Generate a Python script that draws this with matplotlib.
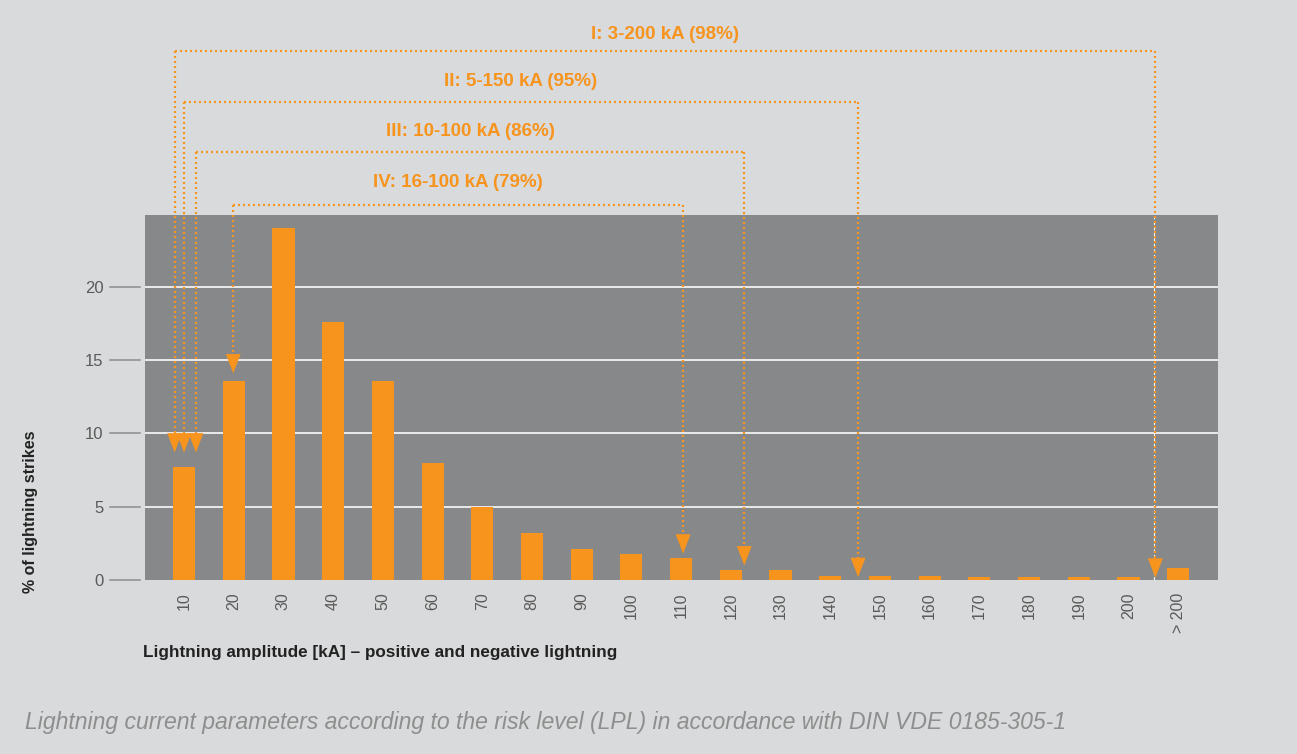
import numpy as np
import matplotlib
matplotlib.use("Agg")
import matplotlib.pyplot as plt
import matplotlib.transforms as mtransforms

# ============================================================
# Data
# ============================================================

amp_pos = [10, 20, 30, 40, 50, 60, 70, 80, 90, 100,
           110, 120, 130, 140, 150, 160, 170, 180, 190, 200, 210]
amp_labels = ["10", "20", "30", "40", "50", "60", "70", "80", "90", "100",
              "110", "120", "130", "140", "150", "160", "170", "180", "190", "200", "> 200"]
share = [7.7, 13.6, 24.0, 17.6, 13.6, 8.0, 5.0, 3.2, 2.1, 1.8,
         1.5, 0.7, 0.7, 0.3, 0.3, 0.3, 0.2, 0.2, 0.2, 0.2, 0.8]

# protection levels: label, left x, right x, bracket height, arrow tips
lpl_labels = ["I: 3-200 kA (98%)", "II: 5-150 kA (95%)",
              "III: 10-100 kA (86%)", "IV: 16-100 kA (79%)"]
lpl_left = [8.1, 10.0, 12.4, 19.9]
lpl_right = [205.4, 145.6, 122.7, 110.4]
lpl_top = [36.1, 32.6, 29.2, 25.6]
lpl_text_y = [37.2, 34.0, 30.6, 27.1]
lpl_tip_left = [8.7, 8.7, 8.7, 14.1]
lpl_tip_right = [0.15, 0.2, 1.0, 1.8]

yticks = [0, 5, 10, 15, 20]

# ============================================================
# Style
# ============================================================

orange = "#F7941E"
bg = "#D9DADB"
plot_bg = "#87888A"
txt_gray = "#5a5a5a"

plt.rcParams["font.family"] = ["Liberation Sans", "DejaVu Sans"]

fig = plt.figure(figsize=(12.97, 7.54), dpi=100, facecolor=bg)
ax = fig.add_axes([145 / 1297, 1 - 580 / 754, 1073 / 1297, 365 / 754])
ax.set_facecolor(plot_bg)

ax.set_xlim(2.15, 218.0)
ax.set_ylim(0, 24.9)

for s in ax.spines.values():
    s.set_visible(False)

# grid
for yv in yticks[1:]:
    ax.axhline(yv, color="#f2f2f2", lw=1.3, zorder=1)

# separator before "> 200"
ax.axvline(205.2, color="white", lw=0.8, ls=(0, (3, 2)), zorder=1)

# bars
ax.bar(amp_pos, share, width=4.45, color=orange, zorder=2)

# ticks
ax.set_xticks(amp_pos)
ax.set_xticklabels(amp_labels, rotation=90, fontsize=11.5, color=txt_gray)
ax.tick_params(axis="x", length=0, pad=9)

ax.set_yticks(yticks)
ax.set_yticklabels([str(v) for v in yticks], fontsize=12, color=txt_gray)
ax.tick_params(axis="y", length=0, pad=30)

trans = mtransforms.blended_transform_factory(ax.transAxes, ax.transData)
for yv in yticks:
    ax.plot([-0.0326, -0.0047], [yv, yv], color="#8c8c8c", lw=1.1,
            transform=trans, clip_on=False)

# ============================================================
# Protection level brackets
# ============================================================

dots = (0, (0.9, 1.35))

for i in range(4):
    xl = lpl_left[i]
    xr = lpl_right[i]
    yt = lpl_top[i]

    ax.plot([xl, xr], [yt, yt], color=orange, lw=1.6, ls=dots,
            clip_on=False, zorder=3)

    for xx, ytip in [(xl, lpl_tip_left[i]), (xr, lpl_tip_right[i])]:
        ybase = ytip + 1.25
        ax.plot([xx, xx], [yt, ybase], color=orange, lw=1.6, ls=dots,
                clip_on=False, zorder=3)
        ax.annotate("", xy=(xx, ytip), xytext=(xx, ybase),
                    arrowprops=dict(arrowstyle="-|>,head_length=1.3,head_width=0.5",
                                    color=orange, lw=0.5,
                                    shrinkA=0, shrinkB=0, mutation_scale=10),
                    annotation_clip=False, zorder=4)

    ax.text((xl + xr) / 2, lpl_text_y[i], lpl_labels[i], ha="center", va="center",
            fontsize=13.5, fontweight="bold", color=orange, clip_on=False)

# ============================================================
# Labels
# ============================================================

fig.text(143 / 1297, 1 - 653 / 754,
         "Lightning amplitude [kA] \u2013 positive and negative lightning",
         ha="left", va="center", fontsize=12.3, fontweight="bold", color="#222222")

fig.text(31 / 1297, 1 - 512 / 754, "% of lightning strikes", rotation=90,
         ha="center", va="center", fontsize=11.5, fontweight="bold", color="#222222")

fig.text(25 / 1297, 1 - 723 / 754,
         "Lightning current parameters according to the risk level (LPL) "
         "in accordance with DIN VDE 0185-305-1",
         ha="left", va="center", fontsize=16.6, style="italic", color="#8e8e8e")

fig.savefig("out.png", dpi=100, facecolor=bg)
